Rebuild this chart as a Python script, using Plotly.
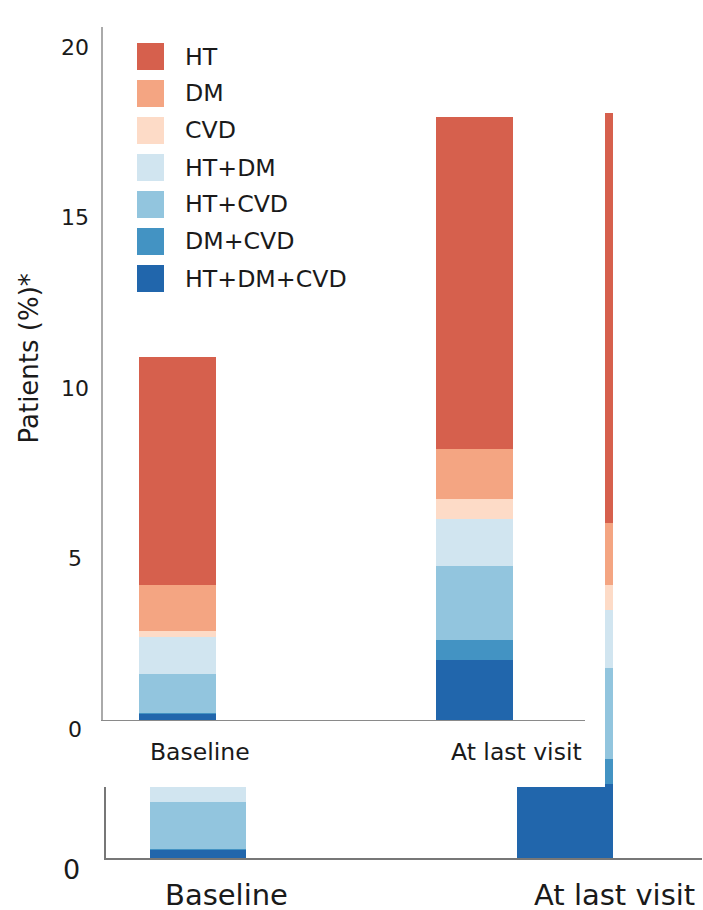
import plotly.graph_objects as go

# ---------------- data ----------------
categories = ["Baseline", "At last visit"]
series_names = ["HT", "DM", "CVD", "HT+DM", "HT+CVD", "DM+CVD", "HT+DM+CVD"]
series_colors = ["#d6604d", "#f4a582", "#fddbc7", "#d1e5f0", "#92c5de", "#4393c3", "#2166ac"]
ht = [6.70, 9.74]
dm = [1.35, 1.47]
cvd = [0.18, 0.59]
ht_dm = [1.09, 1.38]
ht_cvd = [1.12, 2.17]
dm_cvd = [0.03, 0.59]
ht_dm_cvd = [0.19, 1.76]
series_values = [ht, dm, cvd, ht_dm, ht_cvd, dm_cvd, ht_dm_cvd]
y_tick_vals = [0, 5, 10, 15, 20]
y_tick_text = ["0", "5", "10", "15", "20"]
y_title = "Patients (%)*"

# ---------------- layout constants (pixels of the 703x910 window) ----------------
W, H = 703, 910
FONT = "DejaVu Sans"
XR = [-0.2513, 1.374]
YR = [0, 20.33]
BAR_W = 0.26


def px_x(p):
    return p / W


def px_y(p):
    return 1 - p / H


fig = go.Figure()

# background (enlarged) chart -> subplot xy
for name, col, vals in reversed(list(zip(series_names, series_colors, series_values))):
    fig.add_trace(go.Bar(x=categories, y=vals, name=name, marker=dict(color=col, line=dict(width=0)),
                         width=BAR_W, showlegend=False, xaxis="x", yaxis="y", hoverinfo="skip"))

# cover subplot x2y2 (its white plot background hides the background chart)
fig.add_trace(go.Scatter(x=[None], y=[None], xaxis="x2", yaxis="y2", showlegend=False, hoverinfo="skip"))

# foreground chart -> subplot x3y3
for name, col, vals in reversed(list(zip(series_names, series_colors, series_values))):
    fig.add_trace(go.Bar(x=categories, y=vals, name=name, marker=dict(color=col, line=dict(width=0)),
                         width=BAR_W, showlegend=False, xaxis="x3", yaxis="y3"))

annotations = []
shapes = []

# foreground y tick labels (centred horizontally, as in the reference)
for v, t in zip(y_tick_vals, y_tick_text):
    annotations.append(dict(text=t, x=px_x(75), xref="paper", y=v, yref="y3", yshift=-9,
                            xanchor="center", yanchor="middle", showarrow=False,
                            font=dict(family=FONT, size=22, color="#1a1a1a")))

# background y tick label (only the 0 is visible below the foreground chart)
annotations.append(dict(text=y_tick_text[0], x=px_x(71), xref="paper", y=y_tick_vals[0], yref="y", yshift=-11,
                        xanchor="center", yanchor="middle", showarrow=False,
                        font=dict(family=FONT, size=27, color="#1a1a1a")))

# foreground x labels
fg_shift = [22.5, 42]
for c, s in zip(categories, fg_shift):
    annotations.append(dict(text=c, x=c, xref="x3", xshift=s, y=px_y(752), yref="paper",
                            xanchor="center", yanchor="middle", showarrow=False,
                            font=dict(family=FONT, size=23.5, color="#1a1a1a")))

# background x labels
bg_shift = [28, 50]
for c, s in zip(categories, bg_shift):
    annotations.append(dict(text=c, x=c, xref="x", xshift=s, y=px_y(895), yref="paper",
                            xanchor="center", yanchor="middle", showarrow=False,
                            font=dict(family=FONT, size=29, color="#1a1a1a")))

# y title
annotations.append(dict(text=y_title, x=px_x(29), y=px_y(358.5), xref="paper", yref="paper",
                        textangle=-90, xanchor="center", yanchor="middle", showarrow=False,
                        font=dict(family=FONT, size=26, color="#1a1a1a")))

# manual legend with large swatches
for i, (name, col) in enumerate(zip(series_names, series_colors)):
    top = 43 + 37 * i
    shapes.append(dict(type="rect", xref="paper", yref="paper", x0=px_x(137), x1=px_x(164),
                       y0=px_y(top + 27), y1=px_y(top), fillcolor=col, line=dict(width=0), layer="above"))
    annotations.append(dict(text=name, x=px_x(183), y=px_y(top + 13.5), xref="paper", yref="paper",
                            xanchor="left", yanchor="middle", showarrow=False,
                            font=dict(family=FONT, size=23.7, color="#1a1a1a")))

fig.update_layout(
    width=W, height=H, autosize=False,
    margin=dict(l=0, r=0, t=0, b=0, pad=0),
    paper_bgcolor="white", plot_bgcolor="white",
    barmode="stack", showlegend=False,
    annotations=annotations, shapes=shapes,
    xaxis=dict(domain=[px_x(106), px_x(702)], range=XR, anchor="y", showline=True, linecolor="#777777",
               linewidth=1.5, showgrid=False, zeroline=False, showticklabels=False, ticks="", fixedrange=True),
    yaxis=dict(domain=[px_y(858), px_y(2.1)], range=YR, anchor="x",
               showline=True, linecolor="#777777",
               linewidth=1.5, showgrid=False, zeroline=False, showticklabels=False,
               ticks="", fixedrange=True),
    xaxis2=dict(domain=[0, px_x(605)], range=[0, 1], anchor="y2", visible=False, fixedrange=True),
    yaxis2=dict(domain=[px_y(787), 1], range=[0, 1], anchor="x2", visible=False, fixedrange=True),
    xaxis3=dict(domain=[px_x(103), px_x(585)], range=XR, anchor="y3", showline=True, linecolor="#8a8a8a",
                linewidth=1, showgrid=False, zeroline=False, showticklabels=False, ticks="", fixedrange=True),
    yaxis3=dict(domain=[px_y(720), px_y(27)], range=YR, anchor="x3", showline=True, linecolor="#aaaaaa",
                linewidth=1.5, showgrid=False, zeroline=False, showticklabels=False, ticks="", fixedrange=True),
)

# remove the default page margin so the 703x910 figure fills the window exactly
fig.write_html("out.html", config={"displayModeBar": False},
               post_script="document.body.style.margin='0';document.body.style.overflow='hidden';")
